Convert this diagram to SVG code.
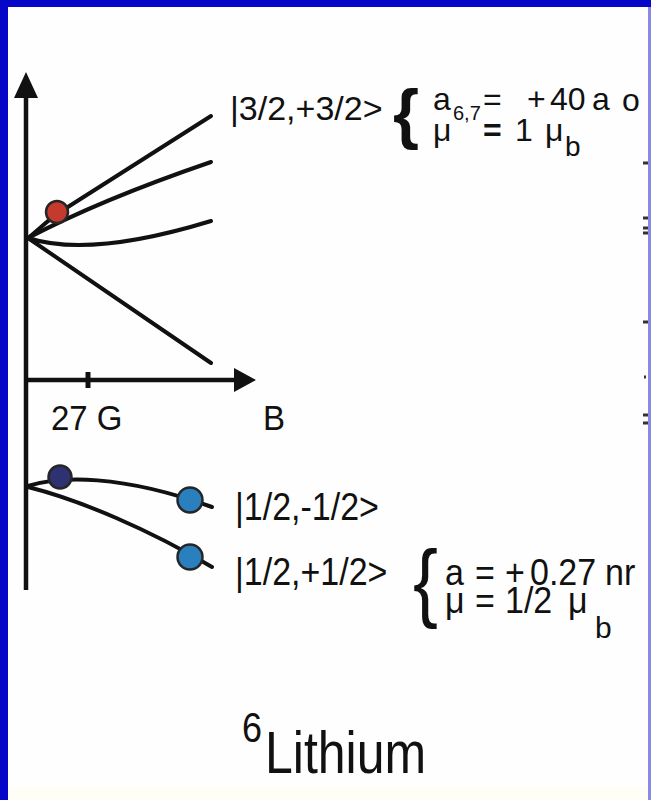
<svg xmlns="http://www.w3.org/2000/svg" width="651" height="800" viewBox="0 0 651 800">
  <style>
    .t { font-family: "Liberation Sans", Arial, sans-serif; fill: #111; }
    .ax { stroke: #111; stroke-width: 4.5; fill: none; }
    .cv { stroke: #111; stroke-width: 4; fill: none; stroke-linecap: round; }
    .dot { stroke: #262626; stroke-width: 2.5; }
  </style>
  <rect x="0" y="0" width="651" height="800" fill="#fefefe"/>
  <rect x="0" y="787" width="651" height="13" fill="#fffef6"/>
  <rect x="0" y="0" width="651" height="7" fill="#0606c8"/>
  <rect x="0" y="0" width="8" height="800" fill="#0606c8"/>
  <rect x="648" y="7" width="3" height="793" fill="#8a8ae6"/>

  <g id="edge-ticks" stroke="#333" stroke-width="3">
    <line x1="643" y1="163" x2="648" y2="163"/>
    <line x1="643" y1="218" x2="648" y2="218"/>
    <line x1="643" y1="228" x2="648" y2="228"/>
    <line x1="643" y1="233" x2="648" y2="233"/>
    <line x1="643" y1="322" x2="648" y2="322"/>
    <line x1="644" y1="377" x2="646" y2="377"/>
    <line x1="643" y1="415" x2="648" y2="415"/>
    <line x1="643" y1="423" x2="648" y2="423"/>
  </g>

  <g id="axes">
    <line class="ax" x1="26" y1="590" x2="26" y2="95"/>
    <polygon points="26,72 14,98 38,98" fill="#111"/>
    <line class="ax" x1="24" y1="380" x2="237" y2="380"/>
    <polygon points="256,380 234,368 234,392" fill="#111"/>
    <line x1="88" y1="372" x2="88" y2="388" stroke="#111" stroke-width="5"/>
  </g>

  <g id="connectors">
    <path class="cv" d="M28,238 C38,230 50,218.4 60,212 L211,116"/>
    <path class="cv" d="M28,238 Q100,200 211,162"/>
    <path class="cv" d="M28,238 Q90,258 211,221"/>
    <path class="cv" d="M28,238 L211,363"/>
    <path class="cv" d="M28,486 C60,476 120,474 212,507"/>
    <path class="cv" d="M28,487 C80,500 150,530 212,567"/>
  </g>

  <g id="dot-red"><circle class="dot" cx="57" cy="212" r="11" fill="#c43a2c"/></g>
  <g id="dot-navy"><circle class="dot" cx="60" cy="477" r="11.5" fill="#2e3272"/></g>
  <g id="dot-blue-1"><circle class="dot" cx="190" cy="500" r="12.5" fill="#2a7fbf"/></g>
  <g id="dot-blue-2"><circle class="dot" cx="190" cy="557" r="12.5" fill="#2a7fbf"/></g>

  <g id="axis-labels">
    <text class="t" font-size="33" transform="translate(51,430) scale(1,1.05)">27 G</text>
    <text class="t" font-size="33" transform="translate(263,430) scale(1,1.05)">B</text>
  </g>

  <g id="state-3-2">
    <text class="t" x="230" y="120" font-size="34">|3/2,+3/2&gt;</text>
    <text class="t" x="393" y="136" font-size="67" font-weight="bold">{</text>
    <text class="t" font-size="32" y="110"><tspan x="433">a</tspan><tspan x="453" y="120" font-size="20">6,7</tspan><tspan x="483" y="110">=</tspan><tspan x="527" y="110">+</tspan><tspan x="550" y="110">40</tspan><tspan x="592" y="110">a</tspan><tspan x="622" y="111" font-size="32">o</tspan></text>
    <text class="t" font-size="32" y="141"><tspan x="433">μ</tspan><tspan x="483" font-weight="bold">=</tspan><tspan x="515">1</tspan><tspan x="545">μ</tspan><tspan x="565" y="156" font-size="28">b</tspan></text>
  </g>

  <g id="state-1-2-minus">
    <text class="t" font-size="34" transform="translate(235,520) scale(1,1.12)">|1/2,-1/2&gt;</text>
  </g>

  <g id="state-1-2-plus">
    <text class="t" font-size="34" transform="translate(235,585) scale(1,1.12)">|1/2,+1/2&gt;</text>
    <text class="t" font-size="88" transform="translate(413,611) scale(0.85,1)">{</text>
    <text class="t" font-size="34" transform="translate(0,585) scale(1,1.1)"><tspan x="445">a</tspan><tspan x="475">=</tspan><tspan x="505">+</tspan><tspan x="530">0.27</tspan><tspan x="605">nr</tspan></text>
    <text class="t" font-size="34" transform="translate(0,613) scale(1,1.1)"><tspan x="445">μ</tspan><tspan x="475">=</tspan><tspan x="505">1/2</tspan><tspan x="568">μ</tspan></text>
    <text class="t" font-size="30" x="595" y="638">b</text>
  </g>

  <g id="title">
    <text class="t" font-size="36" transform="translate(242,742) scale(1,1.2)">6</text>
    <text class="t" font-size="50" transform="translate(265,773) scale(1,1.2)">Lithium</text>
  </g>
</svg>
